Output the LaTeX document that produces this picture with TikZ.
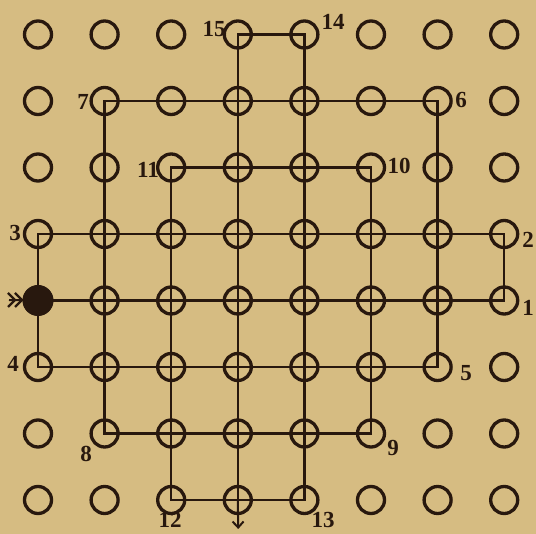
\documentclass[tikz,border=0pt]{standalone}
\usepackage{fontspec}
\setmainfont{Liberation Serif}
\usetikzlibrary{arrows.meta}
\definecolor{paper}{RGB}{214,188,130}
\definecolor{ink}{RGB}{40,24,14}
\tikzset{
  hole/.style={circle,draw=ink,line width=3.3pt,minimum size=27pt,inner sep=0pt},
  route/.style={draw=ink,line width=2.5pt},
  num/.style={font=\fontsize{23}{23}\selectfont\bfseries,text=ink,inner sep=0pt}
}
\begin{document}
\begin{tikzpicture}[x=1pt,y=-1pt]
\fill[paper] (0,0) rectangle (536,534);
\useasboundingbox (0,0) rectangle (536,534);
% holes
\foreach \i in {0,...,7}{
  \foreach \j in {0,...,7}{
    \node[hole] (c-\i-\j) at ({38+66.6*\i},{34.5+66.5*\j}) {};
  }
}
% route
\coordinate (exit) at (238.2,529);
\coordinate (entry) at (9,300);
\draw[route] (c-0-4.center) -- (c-7-4.center) -- (c-7-3.center) -- (c-0-3.center)
  -- (c-0-5.center) -- (c-6-5.center) -- (c-6-1.center) -- (c-1-1.center)
  -- (c-1-6.center) -- (c-5-6.center) -- (c-5-2.center) -- (c-2-2.center)
  -- (c-2-7.center) -- (c-4-7.center) -- (c-4-0.center) -- (c-3-0.center)
  -- (c-3-7.center);
\draw[route,line width=2pt,-{Straight Barb[length=6pt,width=11pt,line width=2pt]}] (c-3-7.center) -- (exit);
% entry feathers
\draw[route,line width=2pt] (entry) -- (c-0-4.center);
\draw[ink,line width=2.2pt] (8,293) -- (15,300) -- (8,307) (15,293) -- (22,300) -- (15,307);
% start piece
\node[circle,fill=ink,draw=ink,line width=1pt,minimum size=30pt,inner sep=0pt] (start) at (c-0-4) {};
% labels
\node[num] (l1) at (528,308) {1};
\node[num] (l2) at (528,240) {2};
\node[num] (l3) at (15,233) {3};
\node[num] (l4) at (13,364) {4};
\node[num] (l5) at (466,373) {5};
\node[num] (l6) at (461,100) {6};
\node[num] (l7) at (83,102) {7};
\node[num] (l8) at (86,454) {8};
\node[num] (l9) at (393,448) {9};
\node[num] (l10) at (399,166) {10};
\node[num] (l11) at (148,170) {11};
\node[num] (l12) at (170,520) {12};
\node[num] (l13) at (323,520) {13};
\node[num] (l14) at (333,22) {14};
\node[num] (l15) at (214,29) {15};
\end{tikzpicture}
\end{document}
